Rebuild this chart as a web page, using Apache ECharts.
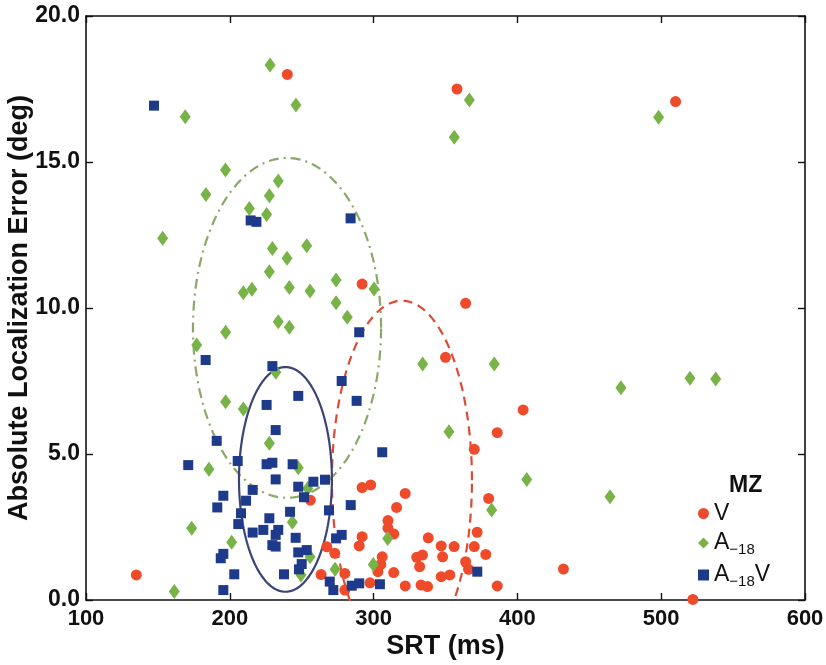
<!DOCTYPE html>
<html><head><meta charset="utf-8">
<script src="https://cdn.jsdelivr.net/npm/echarts@6/dist/echarts.min.js"></script>
<style>html,body{margin:0;padding:0;background:#fff}#c{width:826px;height:665px}</style>
</head><body><div id="c"></div>
<script>
// ---- data (SRT ms, absolute localization error deg) ----
const seriesNames = ['V', 'A\u221218', 'A\u221218V'];
const xTicks = [100, 200, 300, 400, 500, 600];
const yTicks = [0, 5, 10, 15, 20];

const dataV = [
  [240,18.0],[358,17.5],[510,17.07],[292,10.82],[364,10.16],[350,8.31],[404,6.51],[386,5.73],[370,5.16],
  [292,3.85],[298,3.94],[322,3.65],[380,3.48],[316,3.17],[256,3.42],[310,2.72],[310,2.46],[314,2.26],
  [372,2.32],[292,2.17],[338,2.13],[290,1.85],[347,1.85],[356,1.83],[370,1.83],[378,1.56],[267.5,1.82],
  [273,1.6],[306,1.48],[330,1.46],[334,1.54],[348,1.48],[364,1.31],[305,1.22],[332,1.14],[366,1.05],
  [303,0.97],[280,0.91],[263.5,0.87],[314,0.94],[347,0.8],[353,0.86],[432,1.06],[297.5,0.59],[280,0.34],
  [322,0.48],[333,0.51],[337.5,0.46],[386,0.48],[135,0.86],[522,0.02]
];
const dataA = [
  [228,18.32],[246,16.95],[169,16.55],[197,14.73],[233.7,14.35],[183.4,13.89],[227.5,13.84],[213.6,13.41],
  [225.6,13.2],[153.3,12.39],[229.6,12.04],[253.5,12.13],[239.8,11.7],[227.5,11.24],[209.4,10.52],
  [215.4,10.64],[241.4,10.7],[255.8,10.58],[197.1,9.17],[233.7,9.53],[241.4,9.34],[177,8.73],[232,7.8],
  [197.1,6.79],[209.4,6.54],[273.9,10.96],[273.9,10.18],[281.7,9.68],[300.3,10.65],[366.6,17.12],
  [356.1,15.85],[498.2,16.53],[334.1,8.08],[383.9,8.08],[472,7.27],[520,7.59],[537.9,7.57],[227.5,5.37],
  [185.5,4.48],[247.6,4.53],[254.2,3.82],[243.5,2.66],[173.5,2.46],[201.3,1.98],[255.8,1.48],[249.5,0.86],
  [161.4,0.29],[352.4,5.76],[406.5,4.13],[382.1,3.08],[309.8,2.11],[299.8,1.22],[273.2,1.05],[464.4,3.54]
];
const dataAV = [
  [147.3,16.93],[214.5,13.0],[218.5,12.95],[284,13.07],[290,9.17],[183.2,8.22],[229.6,8.01],[247.6,6.99],
  [225.6,6.68],[277.8,7.5],[288.2,6.82],[306,5.06],[231.9,5.82],[190.9,5.45],[171.1,4.62],[205.5,4.76],
  [225.6,4.65],[229.6,4.7],[243.7,4.65],[231.9,4.13],[258.1,4.05],[266.2,4.12],[247.6,3.88],[215.9,3.77],
  [251.6,3.52],[195.5,3.57],[211.3,3.4],[191.3,3.17],[241.9,3.02],[207.8,2.97],[269,3.07],[227.5,2.8],
  [205.9,2.6],[215.9,2.31],[223.3,2.4],[233.7,2.4],[231.9,2.23],[245.8,2.13],[229.6,1.88],[231.9,1.83],
  [247.6,1.63],[253.5,1.71],[195.5,1.58],[193.7,1.43],[250,1.23],[248.1,1.05],[203.1,0.88],[237.7,0.88],
  [269.5,0.63],[195.5,0.34],[284.1,3.25],[277.8,2.23],[273.9,2.11],[372.1,0.97],[272,0.34],[284.8,0.49],
  [290,0.57],[304.4,0.54]
];
// ellipses: [centerX, centerY, semiAxisX, semiAxisY]
const ellipseV = [319.7, 4.1, 48.7, 6.15];
const ellipseA = [239.8, 9.32, 65.4, 5.82];
const ellipseAV = [238.7, 4.13, 32.3, 3.85];

function ellipsePts(e) {
  const pts = [];
  for (let i = 0; i <= 180; i++) {
    const t = i / 180 * 2 * Math.PI;
    pts.push([e[0] + e[2] * Math.cos(t), e[1] + e[3] * Math.sin(t)]);
  }
  return pts;
}

const FONT = '"Liberation Sans", Arial, sans-serif';
const cRed = '#ef4b2b', cGreen = '#78b347', cBlue = '#1e3a8a';

const chart = echarts.init(document.getElementById('c'), null, {renderer: 'canvas'});
const axisCommon = {
  type: 'value',
  axisLine: {show: true, onZero: false, lineStyle: {color: '#111', width: 1.6}},
  axisTick: {show: true, inside: true, length: 7, lineStyle: {color: '#111', width: 1.4}},
  splitLine: {show: false}
};
chart.setOption({
  animation: false,
  backgroundColor: '#fff',
  grid: {left: 86, top: 16, right: 21, bottom: 65, outerBoundsMode: 'none', containLabel: false},
  title: {
    text: 'MZ', left: 729, top: 474, padding: 0,
    textStyle: {fontFamily: FONT, fontWeight: 'bold', fontSize: 23, color: '#111'}
  },
  legend: {
    orient: 'vertical', left: 698, top: 502, itemGap: 4,
    itemWidth: 11, itemHeight: 11, padding: 0,
    data: [
      {name: seriesNames[0], icon: 'circle'},
      {name: seriesNames[1], icon: 'diamond'},
      {name: seriesNames[2], icon: 'rect'}
    ],
    formatter: function (n) {
      if (n === seriesNames[0]) return '{m|V}';
      if (n === seriesNames[1]) return '{m|A}{s|\u221218}';
      return '{m|A}{s|\u221218}{m|V}';
    },
    textStyle: {
      fontFamily: FONT, color: '#111', fontSize: 23,
      rich: {
        m: {fontFamily: FONT, fontSize: 23, color: '#111', lineHeight: 24},
        s: {fontFamily: FONT, fontSize: 15, color: '#111', padding: [13, 0, 0, 0], lineHeight: 24}
      }
    }
  },
  xAxis: [
    Object.assign({}, axisCommon, {
      min: xTicks[0], max: xTicks[xTicks.length - 1], interval: 100, position: 'bottom',
      name: 'SRT (ms)', nameLocation: 'middle', nameGap: 33, nameMoveOverlap: false,
      nameTextStyle: {fontFamily: FONT, fontWeight: 'bold', fontSize: 27, color: '#111'},
      axisLabel: {fontFamily: FONT, fontWeight: 'bold', fontSize: 22, color: '#111', margin: 8}
    }),
    Object.assign({}, axisCommon, {
      min: xTicks[0], max: xTicks[xTicks.length - 1], interval: 100, position: 'top',
      axisLabel: {show: false}
    })
  ],
  yAxis: [
    Object.assign({}, axisCommon, {
      min: yTicks[0], max: yTicks[yTicks.length - 1], interval: 5, position: 'left',
      name: 'Absolute Localization Error (deg)', nameLocation: 'middle', nameGap: 53, nameMoveOverlap: false,
      nameTextStyle: {fontFamily: FONT, fontWeight: 'bold', fontSize: 27, color: '#111'},
      axisLabel: {fontFamily: FONT, fontWeight: 'bold', fontSize: 23, color: '#111', margin: 6,
        formatter: v => v.toFixed(1)}
    }),
    Object.assign({}, axisCommon, {
      min: yTicks[0], max: yTicks[yTicks.length - 1], interval: 5, position: 'right',
      axisLabel: {show: false}
    })
  ],
  series: [
    {name: 'ellV', type: 'line', data: ellipsePts(ellipseV), showSymbol: false, symbol: 'none', clip: true,
      lineStyle: {color: '#dd4a36', width: 2.2, type: [9, 6]}, z: 1, silent: true},
    {name: 'ellA', type: 'line', data: ellipsePts(ellipseA), showSymbol: false, symbol: 'none', clip: true,
      lineStyle: {color: '#8aa866', width: 2.2, type: [10, 5, 2, 5]}, z: 1, silent: true},
    {name: 'ellAV', type: 'line', data: ellipsePts(ellipseAV), showSymbol: false, symbol: 'none', clip: true,
      lineStyle: {color: '#3b4477', width: 2.2, type: 'solid'}, z: 1, silent: true},
    {name: seriesNames[0], type: 'scatter', data: dataV, symbol: 'circle', symbolSize: 11,
      itemStyle: {color: cRed, opacity: 1}, z: 3, clip: false},
    {name: seriesNames[1], type: 'scatter', data: dataA, symbol: 'diamond', symbolSize: [11, 15],
      itemStyle: {color: cGreen, opacity: 1}, z: 3, clip: false},
    {name: seriesNames[2], type: 'scatter', data: dataAV, symbol: 'rect', symbolSize: 10,
      itemStyle: {color: cBlue, opacity: 1}, z: 3, clip: false}
  ]
});
</script>
</body></html>
